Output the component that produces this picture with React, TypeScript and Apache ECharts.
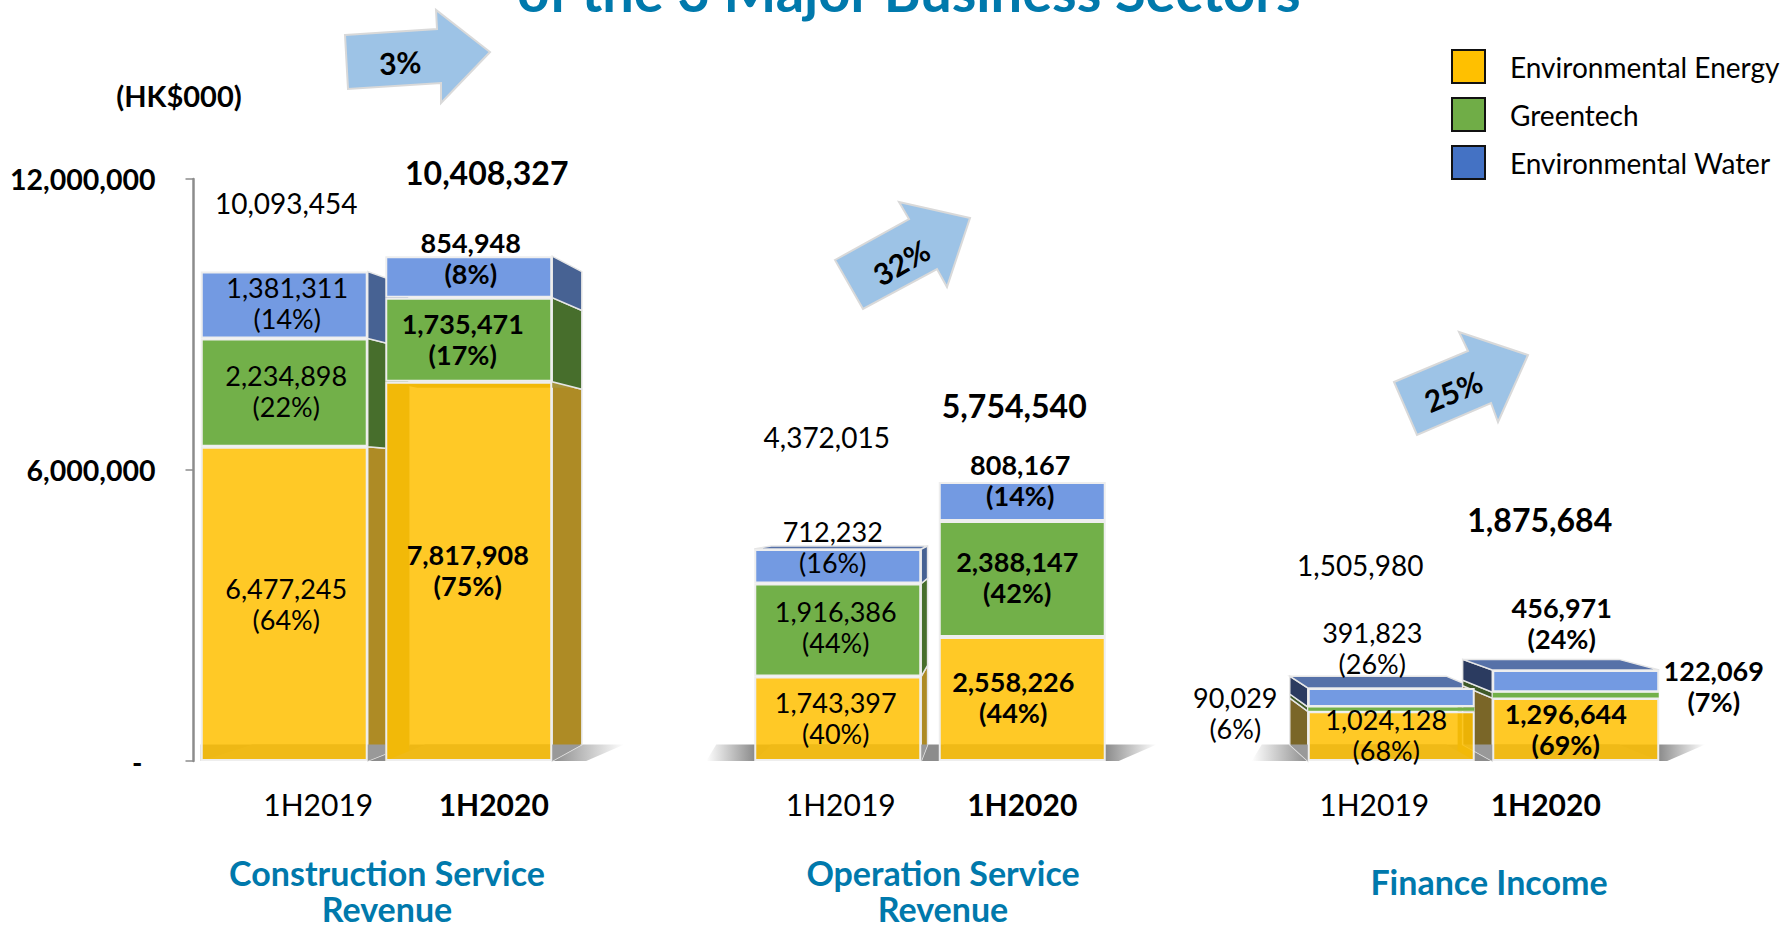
import React, { useEffect, useRef } from "react";
import * as echarts from "echarts";

const FONT = "Lato";
const TEAL = "#0079AC";

const slots = ["1H2019", "1H2020", "", "1H2019", "1H2020", "", "1H2019", "1H2020"];
const energy = [6477245, 7817908, null, 1743397, 2558226, null, 1024128, 1296644];
const greentech = [2234898, 1735471, null, 1916386, 2388147, null, 90029, 122069];
const water = [1381311, 854948, null, 712232, 808167, null, 391823, 456971];
const totals = [10093454, 10408327, null, 4372015, 5754540, null, 1505980, 1875684];
const energyPct = [64, 75, null, 40, 44, null, 68, 69];
const greenPct = [22, 17, null, 44, 42, null, 6, 7];
const waterPct = [14, 8, null, 16, 14, null, 26, 24];
const yTicks = [0, 6000000, 12000000];
const seriesNames = ["Environmental Energy", "Greentech", "Environmental Water"];
const legendColors = ["#FFC000", "#70AD47", "#4472C4"];
const groupTitles = ["Construction Service\nRevenue", "Operation Service\nRevenue", "Finance Income"];
const growth = ["3%", "32%", "25%"];

// placement tables (label nudges in px, per slot)
const energyOff = [[2, 0], [-1, -1], null, [-2, -1], [-9, -2], null, [-5, -1], [-10, -1]];
const greenOff = [[2, -2], [-6, -1], null, [-2, -3], [-5, -2], null, [-156, 4], [138, -9]];
const waterOff = [[3, -2], [2, -19], null, [-5, -19], [-2, -22], null, [-19, -49], [-14, -58]];
const totalOff = [[2, -68], [18, -84], null, [-11, -112], [-8, -76], null, [-31, -123], [-36, -151]];
const catShift = [34, 25, 0, 3, 0, 0, -17, -30];

const GRID = { left: 192, top: 179, width: 1476, height: 582 };
const VP = { x: 1022, y: 501, k: 0.063 };
const BAR_FRAC = 0.905;
const sideColors = ["#AE8B25", "#476E2C", "#476293"];
const leftColors = ["#7A6628", "#3F5A28", "#2B3B60"];
const EDGE = "#E6E6E6";

const fmt = (v: number) => v.toLocaleString("en-US");

function project(p: number[], scale = 1) {
  const k = VP.k * scale;
  return [p[0] + k * (VP.x - p[0]), p[1] + k * (VP.y - p[1])];
}

function renderFaces(_: any, api: any) {
  const slot = api.value(0);
  const low = api.value(1);
  const high = api.value(2);
  const idx = api.value(3);
  const isTop = api.value(4);
  const w = api.size([1, 0])[0] * BAR_FRAC;
  const c0 = api.coord([slot, low]);
  const c1 = api.coord([slot, high]);
  const xl = c0[0] - w / 2;
  const xr = c0[0] + w / 2;
  const fl0 = [xl, c0[1]], fr0 = [xr, c0[1]], fl1 = [xl, c1[1]], fr1 = [xr, c1[1]];
  const bl0 = project(fl0), br0 = project(fr0), bl1 = project(fl1), br1 = project(fr1);
  const children: any[] = [];
  const poly = (pts: number[][], fill: string, stroke = EDGE) =>
    children.push({ type: "polygon", shape: { points: pts }, style: { fill, stroke, lineWidth: 1.5 } });
  if (xr < VP.x) poly([fr0, fr1, br1, br0], sideColors[idx]);
  if (xl > VP.x) poly([fl0, fl1, bl1, bl0], leftColors[idx]);
  if (isTop && c1[1] > VP.y) poly([fl1, fr1, br1, bl1], "#5671A8");
  if (idx === 0) {
    const inner = "#A8953A";
    const s = 0.6;
    if (slot === 1) {
      poly([fl0, fl1, project(fl1, s), project(fl0, s)], inner, "none");
      poly([fl1, fr1, project(fr1, 0.8), project(fl1, 0.8)], inner, "none");
    }
    if (slot === 6) poly([fr0, fr1, project(fr1, s), project(fr0, s)], inner, "none");
    poly([fl0, fr0, br0, bl0], "#999999", "none");
  }
  return { type: "group", children };
}

function renderFloor(_: any, api: any) {
  const a = api.coord([api.value(0), 0]);
  const b = api.coord([api.value(1), 0]);
  const w = api.size([1, 0])[0] * BAR_FRAC;
  const fadeL = api.value(2);
  const fadeR = api.value(3);
  const xl = a[0] - w / 2 - fadeL;
  const xr = b[0] + w / 2 + fadeR;
  const yBack = project([0, a[1]])[1];
  const total = xr - xl;
  const grey = "rgba(140,140,140,1)";
  const clear = "rgba(140,140,140,0)";
  const stops: any[] = [];
  if (fadeL > 0) {
    stops.push({ offset: 0, color: clear }, { offset: fadeL / total, color: grey });
  } else {
    stops.push({ offset: 0, color: grey });
  }
  stops.push({ offset: 1 - fadeR / total, color: grey }, { offset: 1, color: clear });
  return {
    type: "polygon",
    shape: { points: [[xl + (fadeL > 0 ? 10 : 0), yBack], [xr, yBack], [xr - 38, a[1]], [xl, a[1]]] },
    style: { fill: new echarts.graphic.LinearGradient(0, 0, 1, 0, stops) },
  };
}

function barSeries(i: number, values: any[], pcts: any[], offs: any[], color: string) {
  return {
    type: "bar",
    name: seriesNames[i],
    stack: "total",
    z: 3,
    barCategoryGap: "9.5%",
    itemStyle: { color, borderColor: "#EEEEEE", borderWidth: 2 },
    data: values.map((v, s) =>
      v == null
        ? null
        : {
            value: v,
            itemStyle: i === 1 && s >= 6 ? { borderWidth: 0.5 } : undefined,
            label: {
              show: true,
              position: "inside",
              offset: offs[s],
              formatter: `${fmt(v)}\n(${pcts[s]}%)`,
              fontFamily: FONT,
              fontSize: 27,
              lineHeight: 31,
              color: "#000",
              fontWeight: s % 3 === 1 ? "bold" : "normal",
              align: "center",
              verticalAlign: "middle",
            },
          }
    ),
  };
}

const arrows = [
  [[345, 35], [437, 29], [436, 10], [490, 52], [441, 103], [441, 83], [348, 89]],
  [[835, 260], [909, 219], [899, 202], [970, 218], [947, 287], [937, 269], [863, 309]],
  [[1394, 382], [1468, 351], [1459, 332], [1528, 355], [1498, 422], [1491, 403], [1417, 435]],
];
const arrowText = [[400, 62, 0.06], [901, 262, 0.52], [1453, 391, 0.4]];
const titleAt = [[387, 890], [943, 890], [1489, 881]];

export default function App() {
  const ref = useRef<HTMLDivElement>(null);
  useEffect(() => {
    const chart = echarts.init(ref.current!, null, { renderer: "svg", width: 1786, height: 926 });
    const faceData: any[] = [];
    slots.forEach((_, s) => {
      if (energy[s] == null) return;
      const e = energy[s]!, g = greentech[s]!, w = water[s]!;
      faceData.push([s, 0, e, 0, 0], [s, e, e + g, 1, 0], [s, e + g, e + g + w, 2, 1]);
    });
    const text = (t: string, x: number, y: number, size: number, extra: any = {}, rotation = 0) => ({
      type: "text",
      x,
      y,
      rotation,
      z: 10,
      style: {
        text: t,
        fontFamily: FONT,
        fontSize: size,
        fontWeight: "bold",
        fill: "#000",
        align: "center",
        verticalAlign: "middle",
        ...extra,
      },
    });
    chart.setOption({
      animation: false,
      grid: { ...GRID, containLabel: false },
      legend: {
        show: true,
        orient: "vertical",
        left: 1446,
        top: 44,
        itemWidth: 33,
        itemHeight: 33,
        itemGap: 13,
        icon: "rect",
        selectedMode: false,
        textStyle: { fontFamily: FONT, fontSize: 28, color: "#000", padding: [0, 0, 0, 20] },
        data: seriesNames.map((name, i) => ({
          name,
          itemStyle: { color: legendColors[i], borderColor: "#111", borderWidth: 2 },
        })),
      },
      xAxis: {
        type: "category",
        data: slots.map((value, s) => ({
          value,
          textStyle: {
            fontWeight: s % 3 === 1 ? "bold" : "normal",
            padding: catShift[s] >= 0 ? [0, 0, 0, 2 * catShift[s]] : [0, -2 * catShift[s], 0, 0],
          },
        })),
        axisLine: { show: false },
        axisTick: { show: false },
        axisLabel: { interval: 0, margin: 28, fontFamily: FONT, fontSize: 30, color: "#000", hideOverlap: false },
      },
      yAxis: {
        type: "value",
        min: yTicks[0],
        max: yTicks[2],
        interval: yTicks[1],
        offset: -1.5,
        splitLine: { show: false },
        axisLine: { show: true, lineStyle: { color: "#8C8C8C", width: 2.5 } },
        axisTick: { show: true, length: 8, lineStyle: { color: "#8C8C8C", width: 1.5 } },
        axisLabel: {
          margin: 38,
          fontFamily: FONT,
          fontSize: 28.5,
          fontWeight: "bold",
          color: "#000",
          formatter: (v: number) => (v === 0 ? "{dash|-}" : fmt(v)),
          rich: { dash: { fontFamily: FONT, fontSize: 28, fontWeight: "bold", color: "#000", padding: [2, 13, 0, 0] } },
        },
      },
      series: [
        {
          type: "custom",
          name: "floor",
          z: 1,
          silent: true,
          clip: false,
          renderItem: renderFloor,
          encode: { x: [0, 1] },
          data: [
            [0, 1, 0, 72],
            [3, 4, 48, 51],
            [6, 7, 56, 46],
          ],
        },
        {
          type: "custom",
          name: "faces",
          z: 2,
          silent: true,
          clip: false,
          renderItem: renderFaces,
          encode: { x: 0, y: [1, 2] },
          data: faceData,
        },
        barSeries(0, energy, energyPct, energyOff, "rgba(255,192,0,0.85)"),
        barSeries(1, greentech, greenPct, greenOff, "#72B049"),
        barSeries(2, water, waterPct, waterOff, "#739AE2"),
        {
          type: "scatter",
          name: "total",
          z: 4,
          symbolSize: 1,
          itemStyle: { color: "transparent", opacity: 1 },
          data: totals
            .map((v, s) =>
              v == null
                ? null
                : {
                    value: [s, v],
                    label: {
                      show: true,
                      position: "inside",
                      offset: totalOff[s],
                      formatter: fmt(v),
                      fontFamily: FONT,
                      fontSize: s % 3 === 1 ? 32 : 28,
                      fontWeight: s % 3 === 1 ? "bold" : "normal",
                      color: "#000",
                      opacity: 1,
                      align: "center",
                      verticalAlign: "middle",
                    },
                  }
            )
            .filter(Boolean),
        },
      ],
      graphic: {
        elements: [
          ...arrows.map((pts) => ({
            type: "polygon",
            z: 9,
            shape: { points: pts },
            style: { fill: "#9DC3E6", stroke: "#D9D9D9", lineWidth: 2 },
          })),
          ...growth.map((t, i) =>
            text(t, arrowText[i][0], arrowText[i][1], 30, {}, arrowText[i][2])
          ),
          text("(HK$000)", 179, 95, 29),
          text("of the 3 Major Business Sectors", 909, -10, 56, { fill: TEAL }),
          ...groupTitles.map((t, i) =>
            text(t, titleAt[i][0], titleAt[i][1], 34, { fill: TEAL, lineHeight: 36 })
          ),
        ],
      },
    });
    return () => chart.dispose();
  }, []);
  return <div ref={ref} style={{ position: "fixed", left: 0, top: 0, width: 1786, height: 926, background: "#fff" }} />;
}
